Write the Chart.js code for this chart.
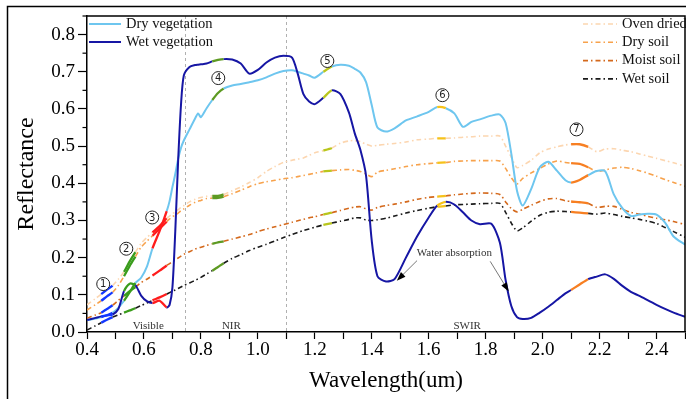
<!DOCTYPE html>
<html>
<head>
<meta charset="utf-8">
<script src="https://cdn.jsdelivr.net/npm/chart.js@4.4.1/dist/chart.umd.min.js"></script>
<style>
  html, body { margin: 0; padding: 0; background: #fff; }
  canvas { display: block; }
</style>
</head>
<body>
<canvas id="spectra" width="686" height="399"></canvas>
<script>
// wavelength grid (um) shared by all spectra
const wavelength = [0.40, 0.43, 0.45, 0.47, 0.49, 0.51, 0.53, 0.55, 0.57, 0.59, 0.61, 0.63, 0.655, 0.68, 0.69, 0.70,
    0.71, 0.72, 0.73, 0.74, 0.76, 0.78, 0.79, 0.80, 0.82, 0.84, 0.86, 0.88, 0.91, 0.94, 0.97, 1.00, 1.03, 1.06, 1.09,
    1.12, 1.14, 1.16, 1.18, 1.20, 1.23, 1.26, 1.29, 1.32, 1.34, 1.36, 1.38, 1.40, 1.42, 1.45, 1.48, 1.52, 1.56, 1.60,
    1.63, 1.66, 1.69, 1.72, 1.75, 1.78, 1.82, 1.85, 1.87, 1.89, 1.91, 1.93, 1.96, 1.99, 2.02, 2.05, 2.08, 2.10, 2.13,
    2.16, 2.19, 2.22, 2.25, 2.28, 2.31, 2.34, 2.37, 2.40, 2.43, 2.46, 2.50];

const wetVegetation = [0.032, 0.038, 0.042, 0.045, 0.047, 0.062, 0.110, 0.130, 0.126, 0.098, 0.083, 0.078, 0.084, 0.066, 0.073, 0.120,
    0.271, 0.460, 0.610, 0.690, 0.713, 0.718, 0.719, 0.720, 0.722, 0.728, 0.732, 0.734, 0.733, 0.722, 0.695, 0.705, 0.725, 0.738, 0.743,
    0.738, 0.695, 0.640, 0.620, 0.613, 0.630, 0.650, 0.640, 0.590, 0.535, 0.490, 0.420, 0.245, 0.150, 0.136, 0.142, 0.200, 0.258, 0.308,
    0.340, 0.350, 0.343, 0.322, 0.300, 0.290, 0.291, 0.240, 0.140, 0.070, 0.040, 0.035, 0.038, 0.052, 0.068, 0.086, 0.104, 0.113, 0.128,
    0.142, 0.149, 0.155, 0.143, 0.124, 0.108, 0.097, 0.085, 0.073, 0.062, 0.052, 0.041];

const dryVegetation = [0.032, 0.036, 0.040, 0.045, 0.052, 0.065, 0.084, 0.107, 0.132, 0.146, 0.175, 0.225, 0.272, 0.325, 0.352, 0.390,
    0.425, 0.465, 0.495, 0.515, 0.545, 0.575, 0.588, 0.578, 0.602, 0.624, 0.643, 0.655, 0.663, 0.667, 0.672, 0.677, 0.685, 0.695, 0.702,
    0.704, 0.700, 0.695, 0.690, 0.684, 0.700, 0.714, 0.719, 0.716, 0.708, 0.698, 0.672, 0.610, 0.550, 0.539, 0.548, 0.569, 0.580, 0.592,
    0.605, 0.602, 0.588, 0.552, 0.565, 0.572, 0.582, 0.585, 0.562, 0.480, 0.380, 0.340, 0.385, 0.443, 0.458, 0.434, 0.408, 0.402, 0.409,
    0.422, 0.433, 0.432, 0.370, 0.333, 0.312, 0.316, 0.318, 0.316, 0.294, 0.257, 0.235];

const ovenDried = [0.073, 0.090, 0.102, 0.114, 0.125, 0.142, 0.162, 0.190, 0.215, 0.238, 0.254, 0.268, 0.285, 0.306, 0.312, 0.318,
    0.323, 0.329, 0.335, 0.340, 0.350, 0.357, 0.360, 0.362, 0.365, 0.366, 0.366, 0.370, 0.380, 0.390, 0.402, 0.415, 0.432, 0.445, 0.456,
    0.462, 0.465, 0.468, 0.475, 0.482, 0.488, 0.495, 0.508, 0.514, 0.515, 0.512, 0.505, 0.500, 0.502, 0.505, 0.507, 0.511, 0.517, 0.519,
    0.521, 0.521, 0.522, 0.524, 0.525, 0.527, 0.527, 0.527, 0.500, 0.470, 0.442, 0.448, 0.462, 0.482, 0.492, 0.498, 0.503, 0.505, 0.505,
    0.498, 0.485, 0.492, 0.493, 0.489, 0.485, 0.479, 0.473, 0.467, 0.461, 0.455, 0.446];

const drySoil = [0.059, 0.074, 0.084, 0.096, 0.107, 0.125, 0.150, 0.178, 0.203, 0.228, 0.244, 0.259, 0.278, 0.297, 0.304, 0.310,
    0.315, 0.320, 0.326, 0.331, 0.341, 0.349, 0.352, 0.354, 0.359, 0.360, 0.361, 0.364, 0.372, 0.381, 0.391, 0.399, 0.404, 0.408, 0.412,
    0.415, 0.418, 0.421, 0.424, 0.427, 0.432, 0.434, 0.436, 0.437, 0.435, 0.432, 0.425, 0.418, 0.430, 0.435, 0.439, 0.445, 0.450, 0.453,
    0.455, 0.456, 0.459, 0.460, 0.461, 0.461, 0.461, 0.460, 0.440, 0.415, 0.398, 0.413, 0.428, 0.440, 0.452, 0.460, 0.456, 0.454, 0.452,
    0.443, 0.432, 0.436, 0.441, 0.443, 0.440, 0.434, 0.427, 0.419, 0.410, 0.402, 0.392];

const moistSoil = [0.037, 0.046, 0.052, 0.062, 0.072, 0.085, 0.097, 0.110, 0.121, 0.133, 0.142, 0.152, 0.165, 0.179, 0.184, 0.189,
    0.194, 0.199, 0.204, 0.209, 0.216, 0.223, 0.226, 0.228, 0.233, 0.237, 0.241, 0.244, 0.250, 0.256, 0.262, 0.270, 0.277, 0.283, 0.289,
    0.295, 0.299, 0.303, 0.307, 0.310, 0.316, 0.321, 0.327, 0.333, 0.336, 0.337, 0.331, 0.328, 0.335, 0.340, 0.344, 0.350, 0.357, 0.362,
    0.364, 0.366, 0.369, 0.371, 0.373, 0.374, 0.373, 0.370, 0.350, 0.332, 0.323, 0.330, 0.341, 0.351, 0.358, 0.359, 0.353, 0.351, 0.349,
    0.346, 0.335, 0.338, 0.338, 0.330, 0.322, 0.317, 0.311, 0.306, 0.302, 0.297, 0.289];

const wetSoil = [0.005, 0.017, 0.025, 0.033, 0.040, 0.046, 0.052, 0.058, 0.064, 0.071, 0.078, 0.085, 0.093, 0.102, 0.106, 0.110,
    0.113, 0.117, 0.121, 0.125, 0.132, 0.139, 0.143, 0.147, 0.156, 0.165, 0.175, 0.185, 0.198, 0.208, 0.219, 0.228, 0.236, 0.245, 0.254,
    0.262, 0.268, 0.273, 0.277, 0.282, 0.288, 0.293, 0.298, 0.303, 0.307, 0.307, 0.301, 0.300, 0.302, 0.306, 0.312, 0.320, 0.327, 0.333,
    0.337, 0.339, 0.342, 0.343, 0.344, 0.345, 0.346, 0.346, 0.322, 0.293, 0.272, 0.280, 0.298, 0.314, 0.322, 0.325, 0.324, 0.323, 0.321,
    0.319, 0.317, 0.320, 0.316, 0.311, 0.307, 0.303, 0.298, 0.292, 0.281, 0.270, 0.255];

// axis ticks
const xTickValues = [0.4, 0.5, 0.6, 0.7, 0.8, 0.9, 1.0, 1.1, 1.2, 1.3, 1.4, 1.5, 1.6, 1.7, 1.8, 1.9, 2.0, 2.1, 2.2, 2.3, 2.4, 2.5];
const xTickLabels = ['0.4', '', '0.6', '', '0.8', '', '1.0', '', '1.2', '', '1.4', '', '1.6', '', '1.8', '', '2.0', '', '2.2', '', '2.4', ''];
const yTickValues = [0, 0.1, 0.2, 0.3, 0.4, 0.5, 0.6, 0.7, 0.8];
const yTickLabels = ['0.0', '0.1', '0.2', '0.3', '0.4', '0.5', '0.6', '0.7', '0.8'];

// highlighted sensor bands (um)
const bandLo = [0.45, 0.53, 0.63, 0.84, 1.23, 1.63, 2.10];
const bandHi = [0.49, 0.57, 0.68, 0.88, 1.26, 1.66, 2.16];
const bandColors = ['#1237ff', '#3a9c1c', '#ff1c1c', '#5d9a22', '#b9c61c', '#f6c21a', '#f77f22'];
const bandMarkX = [0.457, 0.538, 0.629, 0.861, 1.244, 1.648, 2.119];
const bandMarkY = [0.129, 0.224, 0.308, 0.683, 0.729, 0.637, 0.545];

const regionNames = ['Visible', 'NIR', 'SWIR'];
const regionX = [0.615, 0.907, 1.735];
const regionBounds = [0.745, 1.10];

const serif = "'Liberation Serif', 'DejaVu Serif', serif";
const dashDot = [5, 3, 1.5, 3];

const series = [
    { label: 'Wet vegetation', data: wetVegetation, color: '#1616a4', width: 2, dash: [] },
    { label: 'Dry vegetation', data: dryVegetation, color: '#6ec6ef', width: 2, dash: [] },
    { label: 'Oven dried', data: ovenDried, color: '#fcd6b0', width: 1.6, dash: dashDot },
    { label: 'Dry soil', data: drySoil, color: '#f7a24c', width: 1.6, dash: dashDot },
    { label: 'Moist soil', data: moistSoil, color: '#d4691c', width: 1.6, dash: dashDot },
    { label: 'Wet soil', data: wetSoil, color: '#1a1a1a', width: 1.6, dash: dashDot }
];

const bandOf = ctx => {
    const m = (ctx.p0.parsed.x + ctx.p1.parsed.x) / 2;
    return bandLo.findIndex((lo, k) => m > lo && m < bandHi[k]);
};

const datasets = series.map(s => ({
    label: s.label,
    data: wavelength.map((w, i) => ({ x: w, y: s.data[i] })),
    borderColor: s.color,
    borderWidth: s.width,
    borderDash: s.dash,
    pointRadius: 0,
    tension: 0.25,
    fill: false,
    segment: {
        borderColor: ctx => { const i = bandOf(ctx); return i >= 0 ? bandColors[i] : undefined; },
        borderDash: ctx => bandOf(ctx) >= 0 ? [] : undefined,
        borderWidth: ctx => bandOf(ctx) >= 0 ? 2.3 : undefined
    }
}));

const decorations = {
    id: 'decorations',
    beforeDatasetsDraw(chart) {
        const { ctx, chartArea: a, scales: { x } } = chart;
        ctx.save();
        ctx.strokeStyle = '#b0b0b0';
        ctx.lineWidth = 1;
        ctx.setLineDash([3, 3]);
        regionBounds.forEach(b => {
            const px = Math.round(x.getPixelForValue(b)) + 0.5;
            ctx.beginPath();
            ctx.moveTo(px, a.top);
            ctx.lineTo(px, a.bottom);
            ctx.stroke();
        });
        ctx.restore();
    },
    afterDraw(chart) {
        const { ctx, chartArea: a, scales: { x, y } } = chart;
        ctx.save();

        // outer figure frame
        ctx.strokeStyle = '#000';
        ctx.lineWidth = 1.5;
        ctx.beginPath();
        ctx.moveTo(700, 6.5);
        ctx.lineTo(7.5, 6.5);
        ctx.lineTo(7.5, 399);
        ctx.stroke();

        // plot box top / right
        ctx.beginPath();
        ctx.moveTo(a.left, a.top);
        ctx.lineTo(a.right, a.top);
        ctx.lineTo(a.right, a.bottom);
        ctx.stroke();

        // minor y ticks
        ctx.lineWidth = 1.2;
        for (let v = 0.05; v < 0.85; v += 0.1) {
            const py = y.getPixelForValue(v);
            ctx.beginPath();
            ctx.moveTo(a.left - 4.5, py);
            ctx.lineTo(a.left, py);
            ctx.stroke();
        }

        // region labels
        ctx.fillStyle = '#333';
        ctx.font = '11px ' + serif;
        ctx.textAlign = 'center';
        ctx.textBaseline = 'middle';
        regionNames.forEach((n, i) => ctx.fillText(n, x.getPixelForValue(regionX[i]), y.getPixelForValue(0.016)));

        // band markers
        bandMarkX.forEach((bx, i) => {
            const px = x.getPixelForValue(bx);
            const py = y.getPixelForValue(bandMarkY[i]);
            ctx.beginPath();
            ctx.arc(px, py, 6.5, 0, Math.PI * 2);
            ctx.fillStyle = '#fff';
            ctx.fill();
            ctx.strokeStyle = '#222';
            ctx.lineWidth = 1;
            ctx.stroke();
            ctx.fillStyle = '#222';
            ctx.font = "10px 'DejaVu Sans', sans-serif";
            ctx.fillText(String(i + 1), px, py + 0.5);
        });

        // water absorption note
        ctx.fillStyle = '#333';
        ctx.font = '11px ' + serif;
        ctx.fillText('Water absorption', x.getPixelForValue(1.69), y.getPixelForValue(0.213));
        const arrow = (w0, r0, w1, r1) => {
            const x0 = x.getPixelForValue(w0), y0 = y.getPixelForValue(r0);
            const x1 = x.getPixelForValue(w1), y1 = y.getPixelForValue(r1);
            const ang = Math.atan2(y1 - y0, x1 - x0);
            ctx.strokeStyle = '#555';
            ctx.lineWidth = 0.8;
            ctx.beginPath();
            ctx.moveTo(x0, y0);
            ctx.lineTo(x1 - 8 * Math.cos(ang), y1 - 8 * Math.sin(ang));
            ctx.stroke();
            ctx.fillStyle = '#000';
            ctx.beginPath();
            ctx.moveTo(x1, y1);
            ctx.lineTo(x1 - 9 * Math.cos(ang) + 3.2 * Math.sin(ang), y1 - 9 * Math.sin(ang) - 3.2 * Math.cos(ang));
            ctx.lineTo(x1 - 9 * Math.cos(ang) - 3.2 * Math.sin(ang), y1 - 9 * Math.sin(ang) + 3.2 * Math.cos(ang));
            ctx.closePath();
            ctx.fill();
        };
        arrow(1.559, 0.192, 1.488, 0.138);
        arrow(1.816, 0.190, 1.881, 0.109);

        // axis titles
        ctx.fillStyle = '#000';
        ctx.font = '23px ' + serif;
        ctx.fillText('Wavelength(um)', (a.left + a.right) / 2, 381);
        ctx.save();
        ctx.translate(27, (a.top + a.bottom) / 2);
        ctx.rotate(-Math.PI / 2);
        ctx.font = '24px ' + serif;
        ctx.fillText('Reflectance', 0, 0);
        ctx.restore();

        // legends
        ctx.font = '14.5px ' + serif;
        ctx.textAlign = 'left';
        const legendRow = (s, x0, x1, py) => {
            ctx.strokeStyle = s.color;
            ctx.lineWidth = s.width;
            ctx.setLineDash(s.dash);
            ctx.beginPath();
            ctx.moveTo(x0, py);
            ctx.lineTo(x1, py);
            ctx.stroke();
            ctx.setLineDash([]);
            ctx.fillStyle = '#111';
            ctx.fillText(s.label, x1 + 5, py);
        };
        legendRow(series[1], 89, 121, 24);
        legendRow(series[0], 89, 121, 42);
        [2, 3, 4, 5].forEach((k, i) => legendRow(series[k], 583, 617, 24 + i * 18.3));

        ctx.restore();
    }
};

new Chart(document.getElementById('spectra'), {
    type: 'line',
    data: { datasets },
    options: {
        responsive: false,
        animation: false,
        devicePixelRatio: 1,
        layout: { padding: { left: 0, right: 1, top: 16, bottom: 0 } },
        plugins: { legend: { display: false }, tooltip: { enabled: false } },
        scales: {
            x: {
                type: 'linear',
                min: 0.4,
                max: 2.5,
                afterFit: s => { s.height = 67; },
                afterBuildTicks: s => { s.ticks = xTickValues.map(v => ({ value: v })); },
                border: { display: true, color: '#000', width: 1.5 },
                grid: { drawOnChartArea: false, tickLength: 7, tickColor: '#000', tickWidth: 1.2 },
                ticks: {
                    autoSkip: false,
                    maxRotation: 0,
                    padding: 0,
                    color: '#000',
                    font: { family: serif, size: 19 },
                    callback: (v, i) => xTickLabels[i]
                }
            },
            y: {
                min: 0,
                max: 0.85,
                afterFit: s => { s.width = 87; },
                afterBuildTicks: s => { s.ticks = yTickValues.map(v => ({ value: v })); },
                border: { display: true, color: '#000', width: 1.5 },
                grid: { drawOnChartArea: false, tickLength: 9, tickColor: '#000', tickWidth: 1.2 },
                ticks: {
                    autoSkip: false,
                    padding: 3,
                    color: '#000',
                    font: { family: serif, size: 19 },
                    callback: (v, i) => yTickLabels[i]
                }
            }
        }
    },
    plugins: [decorations]
});
</script>
</body>
</html>
